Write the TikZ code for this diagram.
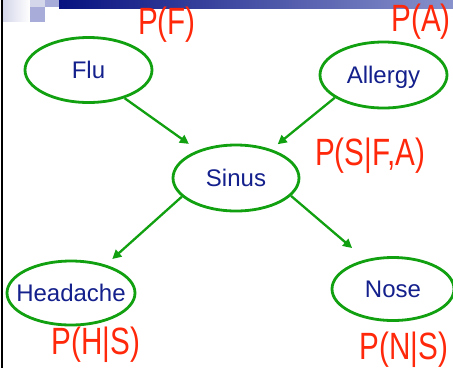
\documentclass[tikz,border=0pt]{standalone}
\usepackage{fontspec}
\setmainfont{Liberation Sans}
\usetikzlibrary{shapes.geometric,arrows.meta}
\definecolor{edgegreen}{RGB}{16,160,16}
\definecolor{navytext}{RGB}{20,32,140}
\definecolor{inkred}{RGB}{255,40,10}
\definecolor{barleft}{RGB}{8,18,128}
\definecolor{barright}{RGB}{136,146,204}
\definecolor{sqlight}{RGB}{212,214,234}
\definecolor{sqmid}{RGB}{168,172,216}
\tikzset{
  varnode/.style={ellipse, draw=edgegreen, line width=2.8pt, inner sep=0pt,
    text=navytext, font=\fontsize{24}{26}\selectfont, text height=17pt, text depth=0pt},
  link/.style={draw=edgegreen, line width=2.3pt, -{Triangle[length=9pt,width=9pt]}},
  prob/.style={text=inkred, font=\fontsize{38}{40}\selectfont, inner sep=0pt, xscale=0.78}
}
\newcommand{\ztext}[1]{\makebox[0pt]{#1}}
\begin{document}
\begin{tikzpicture}[x=1pt,y=-1pt]
\useasboundingbox (0,0) rectangle (453,368);
\fill[white] (0,0) rectangle (453,368);
% slide decoration
\shade[left color=barleft, right color=barright] (59,0) rectangle (453,8);
\shade[left color=sqlight, right color=white] (3,0) rectangle (30,21);
\fill[sqlight] (30,0) rectangle (45,7);
\fill[sqmid] (45,0) rectangle (59,7);
\fill[sqmid] (30,7) rectangle (45,22);
\fill[black] (0.8,0) rectangle (2.8,368);
% nodes
\node[varnode, minimum width=127pt, minimum height=65pt] (flu) at (88.5,70) {\ztext{Flu}};
\node[varnode, minimum width=127pt, minimum height=66pt] (allergy) at (383.5,75) {\ztext{Allergy}};
\node[varnode, minimum width=126pt, minimum height=66pt] (sinus) at (236,178) {\ztext{Sinus}};
\node[varnode, minimum width=128pt, minimum height=64pt] (headache) at (71,293) {\ztext{Headache}};
\node[varnode, minimum width=122pt, minimum height=63pt] (nose) at (393,289) {\ztext{Nose}};
% connectors
\draw[link, shorten >=11pt] (flu.-38.6) -- (sinus.144.4);
\draw[link, shorten >=8pt] (allergy.205.4) -- (sinus.39.7);
\draw[link, shorten >=8.6pt] (sinus.199.7) -- (headache.39.2);
\draw[link, shorten >=17.6pt] (sinus.-18.8) -- (nose.133.6);
% probability labels
\node[prob] (pf) at (167,25) {P(F)};
\node[prob] (pa) at (421,22) {P(A)};
\node[prob] (psfa) at (370,156) {P(S|F,A)};
\node[prob] (phs) at (96,345) {P(H|S)};
\node[prob] (pns) at (404,350) {P(N|S)};
\end{tikzpicture}
\end{document}
